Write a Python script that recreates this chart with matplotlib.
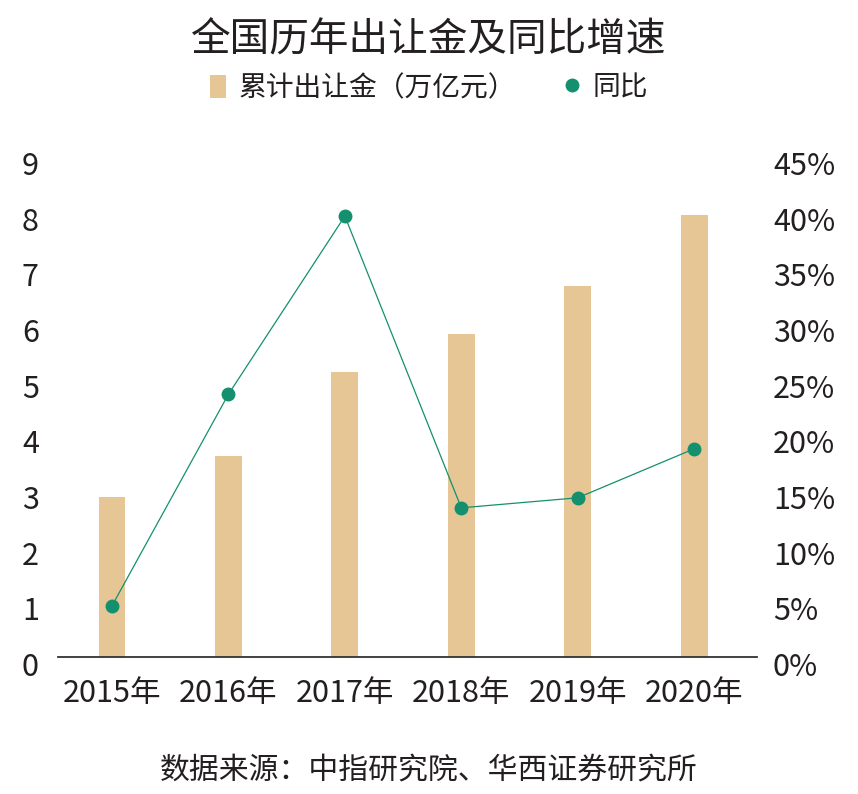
import matplotlib
matplotlib.use("Agg")
import matplotlib.pyplot as plt
import matplotlib.transforms as mtransforms
from matplotlib.patches import Patch
from matplotlib.lines import Line2D

plt.rcParams['font.family'] = ['Noto Sans CJK SC', 'DejaVu Sans']

years = ['2015年', '2016年', '2017年', '2018年', '2019年', '2020年']
revenue = [2.87, 3.61, 5.12, 5.80, 6.66, 7.94]      # 万亿元
growth = [4.6, 23.6, 39.6, 13.4, 14.3, 18.7]         # %
left_ticks = list(range(0, 10))
right_ticks = list(range(0, 50, 5))

bar_color = '#E5C694'
line_color = '#14906F'
text_color = '#231F20'

fig = plt.figure(figsize=(8.58, 7.94), dpi=100)
ax = fig.add_axes([58/858, 1-657/794, (757-58)/858, (657-156)/794])
x = list(range(len(years)))
ax.bar(x, revenue, width=0.23, color=bar_color, zorder=2)
ax.set_xlim(-0.464, 5.54)
ax.set_ylim(0, 9)
ax.set_yticks(left_ticks)
ax.set_xticks(x)
ax.set_xticklabels(years)

ax2 = ax.twinx()
ax2.plot(x, growth, color=line_color, lw=0.9, marker='o', ms=9, zorder=3)
ax2.set_ylim(0, 45)
ax2.set_yticks(right_ticks)
ax2.set_yticklabels([f'{v}%' for v in right_ticks])

for a in (ax, ax2):
    for s in a.spines.values():
        s.set_visible(False)
    a.tick_params(length=0, labelsize=22, colors=text_color)
ax.spines['bottom'].set_visible(True)
ax.spines['bottom'].set_color('#333333')
ax.spines['bottom'].set_linewidth(1.3)
ax.tick_params(axis='x', pad=15)
ax.tick_params(axis='y', pad=26)
ax2.tick_params(axis='y', pad=11.5)

off = mtransforms.ScaledTranslation(0, -7/100, fig.dpi_scale_trans)
for lab in ax.get_yticklabels() + ax2.get_yticklabels():
    lab.set_transform(lab.get_transform() + off)
for lab in ax.get_yticklabels():
    lab.set_horizontalalignment('left')

fig.text(0.5, 1-40/794, '全国历年出让金及同比增速', ha='center', va='center',
         fontsize=28.5, color=text_color)

handles = [Patch(facecolor=bar_color, edgecolor='none'),
           Line2D([], [], color=line_color, marker='o', ls='none', ms=9)]
leg = fig.legend(handles, ['累计出让金（万亿元）', '同比'], loc='center',
                 bbox_to_anchor=(0.5, 1-88/794), ncol=2, frameon=False,
                 fontsize=20, handlelength=0.6, handleheight=0.9, handletextpad=0.45,
                 columnspacing=1.7, labelcolor=text_color)

fig.text(0.5, 1-770/794, '数据来源：中指研究院、华西证券研究所', ha='center', va='center',
         fontsize=21.5, color=text_color)

fig.savefig('out.png', dpi=100, facecolor='white')
